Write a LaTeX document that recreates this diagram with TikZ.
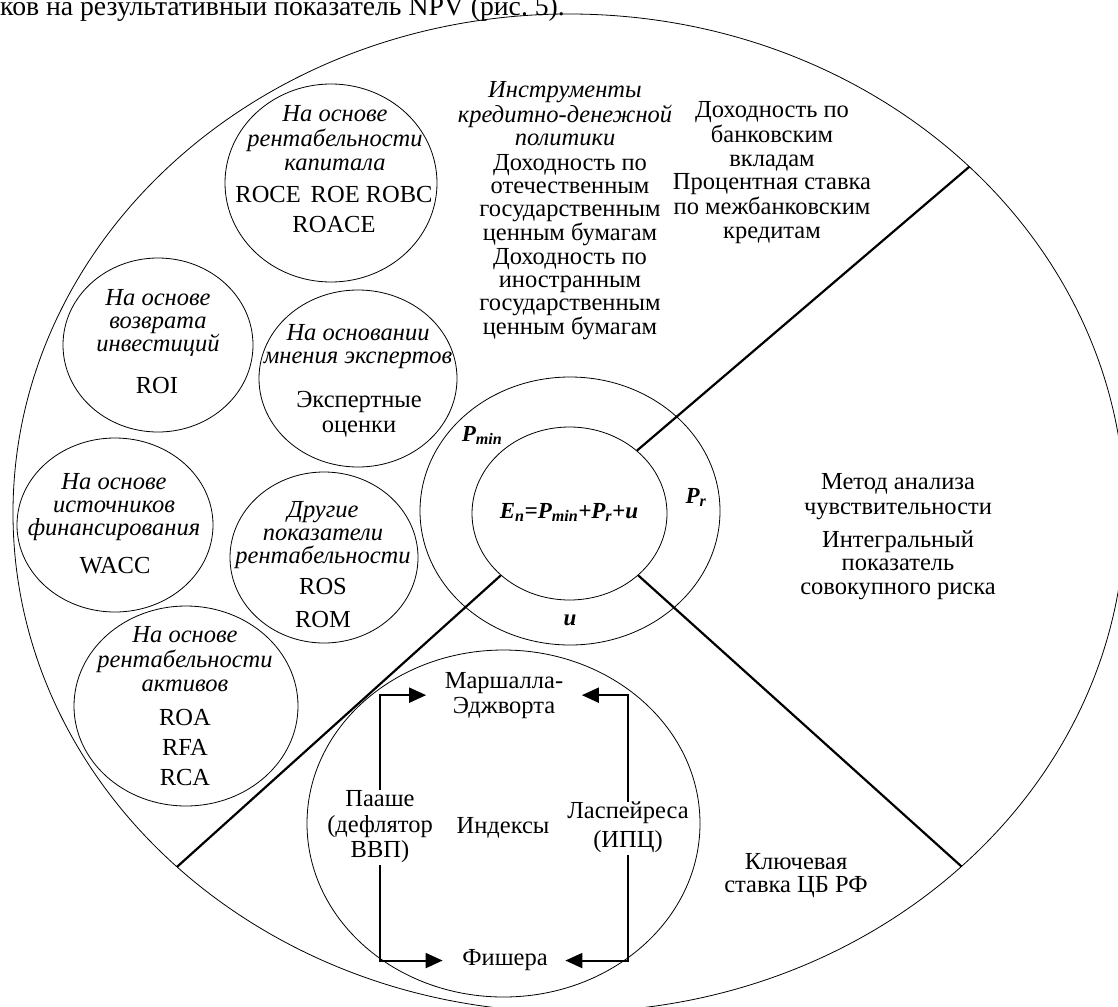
\documentclass[tikz,border=0pt]{standalone}
\usepackage{fontspec}
\setmainfont{Liberation Serif}
\usetikzlibrary{arrows.meta,intersections,calc,shapes.geometric}
\begin{document}
\begin{tikzpicture}[x=1pt,y=-1pt,
  ov/.style={draw, ellipse, line width=0.8pt, inner sep=0pt},
  txt/.style={font=\fontsize{24.5}{23.3}\selectfont, align=center, inner sep=0pt, anchor=north, yshift=16.31pt},
  itx/.style={txt, font=\fontsize{24.5}{23.3}\selectfont\itshape},
  bi/.style={font=\fontsize{23}{23.3}\selectfont\bfseries\itshape, inner sep=0pt, anchor=base},
  radial/.style={line width=2.2pt},
  arr/.style={line width=2pt, -{Triangle[length=17pt,width=15pt]}},
]
\useasboundingbox (0,0) rectangle (1118,1006);
\node[anchor=base west, inner sep=0pt, font=\fontsize{27.7}{30}\selectfont] (hdr) at (0,16) {ков на результативный показатель NPV (рис.~5).};

\draw[line width=0.8pt, name path=outerP] (569,513) ellipse [x radius=556pt, y radius=499pt];

\node[ov, minimum width=212pt, minimum height=198pt] (cCap) at (331,183) {};
\node[ov, minimum width=190pt, minimum height=174pt] (cRoi) at (158,345) {};
\node[ov, minimum width=198pt, minimum height=177pt] (cExp) at (358,378.5) {};
\node[ov, minimum width=196pt, minimum height=174pt] (cFin) at (115,525) {};
\node[ov, minimum width=188pt, minimum height=171pt] (cOth) at (324,557.5) {};
\node[ov, minimum width=224pt, minimum height=200pt] (cAst) at (186,706) {};
\node[ov, minimum width=393pt, minimum height=347pt] (cIdx) at (503.5,823.5) {};
\node[ov, minimum width=300pt, minimum height=268pt] (ring) at (570,511) {};
\node[ov, minimum width=195pt, minimum height=173pt] (core) at (569.5,513.5) {};

\path[name path=rayUR] (core.43) -- ++(40.5:700pt);
\path[name path=rayLR] (core.-42) -- ++(-42:700pt);
\path[name path=rayLL] (core.222) -- ++(222:700pt);
\path[name intersections={of=outerP and rayUR, by=eUR}];
\path[name intersections={of=outerP and rayLR, by=eLR}];
\path[name intersections={of=outerP and rayLL, by=eLL}];
\draw[radial] (core.43) -- (eUR);
\draw[radial] (core.-42) -- (eLR);
\draw[radial] (core.222) -- (eLL);

% left circles
\node[itx] (capT) at (335,121) {\strut На основе\\рентабельности\\капитала};
\node[txt] (capM) at (334,202) {\strut ROCE\hspace{10pt}ROE ROBC\\[6.7pt]ROACE};
\node[itx] (roiT) at (158,305) {\strut На основе\\возврата\\инвестиций};
\node[txt] (roiM) at (157,393) {\strut ROI};
\node[itx] (expT) at (358,340) {\strut На основании\\мнения экспертов};
\node[txt] (expM) at (359,407) {\strut Экспертные\\[1.7pt]оценки};
\node[itx] (finT) at (114,489) {\strut На основе\\источников\\финансирования};
\node[txt] (finM) at (115,573) {\strut WACC};
\node[itx] (othT) at (323,517) {\strut Другие\\показатели\\рентабельности};
\node[txt] (othM) at (323,594) {\strut ROS\\[10pt]ROM};
\node[itx] (astT) at (185,642) {\strut На основе\\рентабельности\\активов};
\node[txt] (astM) at (185,725) {\strut ROA\\[7pt]RFA\\[7pt]RCA};

% top texts
\node[itx] (monT) at (565,97) {\strut Инструменты\\кредитно-денежной\\политики};
\node[txt] (domT) at (570,170) {\strut Доходность по\\отечественным\\государственным\\ценным бумагам};
\node[txt] (forT) at (570,264) {\strut Доходность по\\иностранным\\государственным\\ценным бумагам};
\node[txt] (bankT) at (772,117) {\strut Доходность по\\банковским\\вкладам};
\node[txt] (ibkT) at (772,189) {\strut Процентная ставка\\по межбанковским\\кредитам};

% right texts
\node[txt] (sensT) at (898,489) {\strut Метод анализа\\[1.7pt]чувствительности};
\node[txt] (intT) at (898,547) {\strut Интегральный\\показатель\\совокупного риска};
\node[txt] (keyT) at (796,869) {\strut Ключевая\\ставка ЦБ РФ};

% ring labels
\node[bi] (pmin) at (482,441) {P\textsubscript{min}};
\node[bi] (form) at (569,518) {E\textsubscript{n}=P\textsubscript{min}+P\textsubscript{r}+u};
\node[bi] (pr) at (696,503) {P\textsubscript{r}};
\node[bi] (uu) at (570,625) {u};

% indices
\node[txt] (marsh) at (504,688) {\strut Маршалла-\\[1.7pt]Эджворта};
\node[txt] (paashe) at (380,806) {\strut Пааше\\[1.7pt](дефлятор\\[1.7pt]ВВП)\strut};
\node[txt] (idx) at (503,833) {\strut Индексы};
\node[txt] (lasp) at (628,818) {\strut Ласпейреса\\[3.7pt](ИПЦ)\strut};
\node[txt] (fisher) at (505,965) {\strut Фишера\strut};

\draw[arr, shorten >=18.5pt] (paashe.north) |- (marsh.west);
\draw[arr, shorten >=19.5pt] (paashe.south) |- (fisher.west);
\draw[arr, shorten >=18.5pt] (lasp.north) |- (marsh.east);
\draw[arr, shorten >=17.5pt] (lasp.south) |- (fisher.east);
\end{tikzpicture}
\end{document}
